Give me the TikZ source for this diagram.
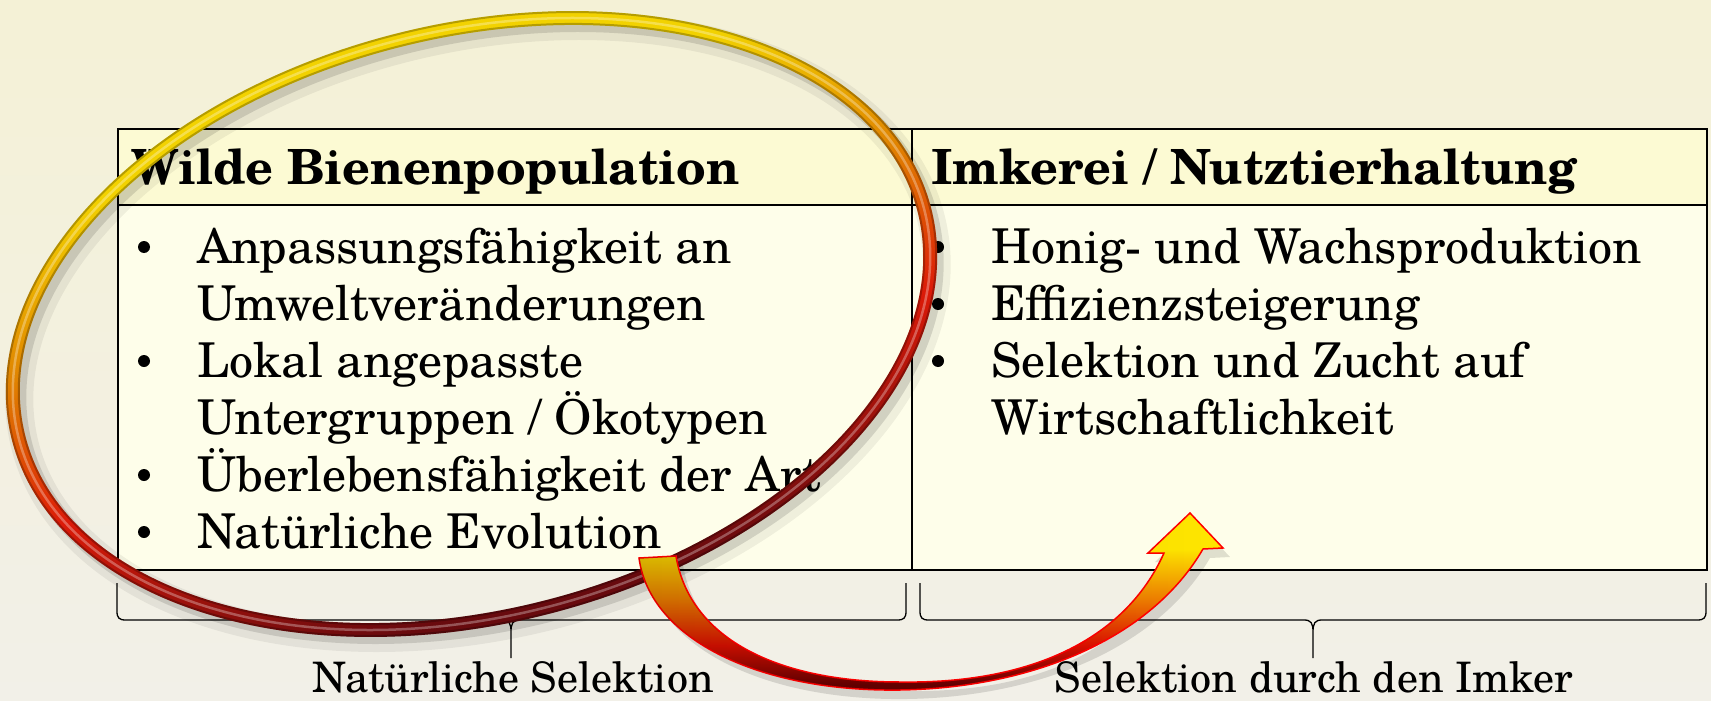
\documentclass[tikz,border=0pt]{standalone}
\usepackage{fontspec}
\setmainfont{TeX Gyre Schola}
\usetikzlibrary{positioning,calc,fadings}

\definecolor{BgTop}{HTML}{F4F1D6}
\definecolor{BgBottom}{HTML}{F2F0E8}
\definecolor{HeadFill}{HTML}{FCFAD3}
\definecolor{CellFill}{HTML}{FEFEEA}
\definecolor{RingYellow}{HTML}{F2D200}
\definecolor{RingOrange}{HTML}{E08400}
\definecolor{RingRed}{HTML}{DC1A08}
\definecolor{RingDark}{HTML}{680A0E}
\definecolor{ArrowYellow}{HTML}{FFE600}
\definecolor{ArrowOrange}{HTML}{F08000}
\definecolor{ArrowRed}{HTML}{E01000}
\definecolor{ArrowDark}{HTML}{6A0000}

\pgfdeclareverticalshading{ringshade}{100bp}{color(0bp)=(RingDark); color(30bp)=(RingDark); color(44bp)=(RingRed); color(55bp)=(RingOrange); color(66bp)=(RingYellow); color(100bp)=(RingYellow)}
\pgfdeclareverticalshading{arrowshade}{100bp}{color(0bp)=(ArrowDark); color(27bp)=(ArrowDark); color(38bp)=(ArrowRed); color(51bp)=(ArrowOrange); color(65bp)=(ArrowYellow); color(100bp)=(ArrowYellow)}

% curved arrow from the wild population to the beekeeping side
\newcommand{\selarrow}{(639,558) -- (676,556) .. controls (690,640) and (780,682) .. (900,682) .. controls (1030,684) and (1125,640) .. (1164,553) -- (1148,553) -- (1190,513) -- (1223,548) -- (1203,549) .. controls (1150,640) and (1030,688) .. (900,690) .. controls (760,692) and (650,640) .. cycle}

% brace under a column: left end, right end, tip
\newcommand{\groupbrace}[3]{(#1,583) -- (#1,611) .. controls (#1,618) and (#1+2,620) .. (#1+9,620) -- (#3-9,620) .. controls (#3-2,620) and (#3,623) .. (#3,632) -- (#3,658) (#3,632) .. controls (#3,623) and (#3+2,620) .. (#3+9,620) -- (#2-9,620) .. controls (#2-2,620) and (#2,618) .. (#2,611) -- (#2,583)}

\begin{document}
\begin{tikzpicture}[x=1pt,y=-1pt,
  cell/.style={draw=black,line width=2.2pt,anchor=north west,inner sep=0pt},
  headtext/.style={anchor=base west,inner sep=0pt,font=\fontsize{48.5}{58}\selectfont\bfseries},
  itemtext/.style={anchor=base west,inner sep=0pt,font=\fontsize{48}{57}\selectfont},
  bulletmark/.style={circle,fill=black,inner sep=0pt,minimum size=12},
  grouplabel/.style={anchor=base,inner sep=0pt,font=\fontsize{42}{50}\selectfont},
  bracestyle/.style={line width=1.3pt,black}]
  \useasboundingbox (0,0) rectangle (1711,701);
  \shade[top color=BgTop,bottom color=BgBottom] (0,0) rectangle (1711,701);

  % table
  \node[cell,fill=CellFill,minimum width=794,minimum height=365] (wildbody) at (117,204) {};
  \node[cell,fill=CellFill,minimum width=795,minimum height=365] (keepbody) at (911,204) {};
  \node[cell,fill=HeadFill,minimum width=794,minimum height=76] (wildhead) at (117,128) {};
  \node[cell,fill=HeadFill,minimum width=795,minimum height=76] (keephead) at (911,128) {};

  \node[headtext] (wildtitle) at (131,184) {Wilde Bienenpopulation};
  \node[headtext] (keeptitle) at (931,184) {Imkerei / Nutztierhaltung};

  % left column
  \node[bulletmark] (wb1) at (144,247) {};
  \node[itemtext] (wl1) at (197,263) {Anpassungsfähigkeit an};
  \node[itemtext] (wl2) at (197,320) {Umweltveränderungen};
  \node[bulletmark] (wb2) at (144,361) {};
  \node[itemtext] (wl3) at (197,377) {Lokal angepasste};
  \node[itemtext] (wl4) at (197,434) {Untergruppen / Ökotypen};
  \node[bulletmark] (wb3) at (144,475) {};
  \node[itemtext] (wl5) at (197,491) {Überlebensfähigkeit der Art};
  \node[bulletmark] (wb4) at (144,532) {};
  \node[itemtext] (wl6) at (197,548) {Natürliche Evolution};

  % right column
  \node[bulletmark] (kb1) at (938,247) {};
  \node[itemtext] (kl1) at (991,263) {Honig- und Wachsproduktion};
  \node[bulletmark] (kb2) at (938,304) {};
  \node[itemtext] (kl2) at (991,320) {Effizienzsteigerung};
  \node[bulletmark] (kb3) at (938,361) {};
  \node[itemtext] (kl3) at (991,377) {Selektion und Zucht auf};
  \node[itemtext] (kl4) at (991,434) {Wirtschaftlichkeit};

  % braces and labels
  \draw[bracestyle] \groupbrace{117}{906}{511};
  \draw[bracestyle] \groupbrace{920}{1706}{1313};
  \node[grouplabel] (natsel) at (513,692) {Natürliche Selektion};
  \node[grouplabel] (keepsel) at (1314,692) {Selektion durch den Imker};

  % ring round the wild population
  \draw[black,opacity=0.06,line width=28pt,rotate around={14:(478,332)}] (478,332) ellipse [x radius=467,y radius=293];
  \draw[black,opacity=0.12,line width=16pt,rotate around={14:(477,330)}] (477,330) ellipse [x radius=467,y radius=293];
  \begin{scope}[even odd rule]
    \clip[rotate around={14:(471.5,324)}] (471.5,324) ellipse [x radius=474,y radius=300] (471.5,324) ellipse [x radius=460,y radius=286];
    \shade[shading=ringshade,shading angle=15] (0,10) rectangle (960,640);
  \end{scope}
  \draw[black,opacity=0.25,line width=2pt,rotate around={14:(471.5,324)}] (471.5,324) ellipse [x radius=473,y radius=299] (471.5,324) ellipse [x radius=461,y radius=287];
  \draw[white,opacity=0.3,line width=2.5pt,rotate around={14:(471.5,324)}] (471.5,324) ellipse [x radius=467,y radius=293];

  % selection arrow
  \fill[black,opacity=0.12,shift={(7,9)}] \selarrow;
  \shadedraw[shading=arrowshade,draw=red,line width=1.5pt] \selarrow;
  \fill[black,opacity=0.14,path fading=east] \selarrow;
\end{tikzpicture}
\end{document}
